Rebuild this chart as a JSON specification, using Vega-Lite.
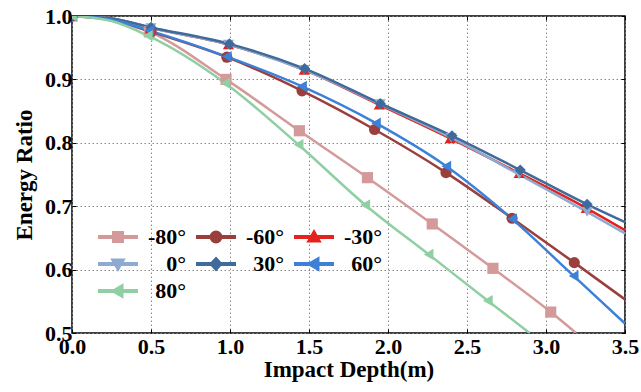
{
  "$schema": "https://vega.github.io/schema/vega-lite/v6.json",
  "width": 553,
  "height": 317,
  "autosize": {"type": "none"},
  "padding": {"left": 72, "top": 16, "right": 16, "bottom": 59},
  "background": "white",
  "config": {
    "view": {"stroke": "black", "strokeWidth": 1.5},
    "font": "Liberation Serif",
    "axis": {
      "labelFont": "Liberation Serif", "labelFontWeight": "bold", "labelFontSize": 22, "labelColor": "black",
      "titleFont": "Liberation Serif", "titleFontWeight": "bold", "titleFontSize": 23, "titleColor": "black",
      "domain": false, "tickColor": "black", "tickSize": -4, "tickWidth": 1,
      "grid": true, "gridColor": "#888", "gridDash": [1.5, 2.5], "gridWidth": 1
    }
  },
  "data": {"values": [
    {"a": "-80°", "x": 0, "y": 1.0, "m": 1},
    {"a": "-80°", "x": 0.25, "y": 0.993, "m": 0},
    {"a": "-80°", "x": 0.49, "y": 0.975, "m": 1},
    {"a": "-80°", "x": 0.975, "y": 0.900, "m": 1},
    {"a": "-80°", "x": 1.439, "y": 0.819, "m": 1},
    {"a": "-80°", "x": 1.87, "y": 0.745, "m": 1},
    {"a": "-80°", "x": 2.28, "y": 0.672, "m": 1},
    {"a": "-80°", "x": 2.664, "y": 0.602, "m": 1},
    {"a": "-80°", "x": 3.03, "y": 0.533, "m": 1},
    {"a": "-80°", "x": 3.19, "y": 0.5, "m": 0},

    {"a": "-60°", "x": 0, "y": 1.0, "m": 1},
    {"a": "-60°", "x": 0.25, "y": 0.994, "m": 0},
    {"a": "-60°", "x": 0.5, "y": 0.975, "m": 1},
    {"a": "-60°", "x": 0.98, "y": 0.935, "m": 1},
    {"a": "-60°", "x": 1.456, "y": 0.882, "m": 1},
    {"a": "-60°", "x": 1.915, "y": 0.821, "m": 1},
    {"a": "-60°", "x": 2.367, "y": 0.753, "m": 1},
    {"a": "-60°", "x": 2.785, "y": 0.681, "m": 1},
    {"a": "-60°", "x": 3.179, "y": 0.611, "m": 1},
    {"a": "-60°", "x": 3.5, "y": 0.553, "m": 0},

    {"a": "-30°", "x": 0, "y": 1.0, "m": 1},
    {"a": "-30°", "x": 0.25, "y": 0.996, "m": 0},
    {"a": "-30°", "x": 0.5, "y": 0.981, "m": 1},
    {"a": "-30°", "x": 0.99, "y": 0.955, "m": 1},
    {"a": "-30°", "x": 1.47, "y": 0.915, "m": 1},
    {"a": "-30°", "x": 1.945, "y": 0.860, "m": 1},
    {"a": "-30°", "x": 2.394, "y": 0.807, "m": 1},
    {"a": "-30°", "x": 2.83, "y": 0.752, "m": 1},
    {"a": "-30°", "x": 3.255, "y": 0.697, "m": 1},
    {"a": "-30°", "x": 3.5, "y": 0.662, "m": 0},

    {"a": "0°", "x": 0, "y": 1.0, "m": 1},
    {"a": "0°", "x": 0.25, "y": 0.996, "m": 0},
    {"a": "0°", "x": 0.5, "y": 0.981, "m": 1},
    {"a": "0°", "x": 0.99, "y": 0.955, "m": 1},
    {"a": "0°", "x": 1.47, "y": 0.915, "m": 1},
    {"a": "0°", "x": 1.95, "y": 0.861, "m": 1},
    {"a": "0°", "x": 2.40, "y": 0.808, "m": 1},
    {"a": "0°", "x": 2.83, "y": 0.750, "m": 1},
    {"a": "0°", "x": 3.26, "y": 0.691, "m": 1},
    {"a": "0°", "x": 3.5, "y": 0.657, "m": 0},

    {"a": "30°", "x": 0, "y": 1.0, "m": 1},
    {"a": "30°", "x": 0.25, "y": 0.996, "m": 0},
    {"a": "30°", "x": 0.5, "y": 0.982, "m": 1},
    {"a": "30°", "x": 0.996, "y": 0.956, "m": 1},
    {"a": "30°", "x": 1.472, "y": 0.917, "m": 1},
    {"a": "30°", "x": 1.951, "y": 0.862, "m": 1},
    {"a": "30°", "x": 2.405, "y": 0.811, "m": 1},
    {"a": "30°", "x": 2.837, "y": 0.757, "m": 1},
    {"a": "30°", "x": 3.26, "y": 0.703, "m": 1},
    {"a": "30°", "x": 3.5, "y": 0.675, "m": 0},

    {"a": "60°", "x": 0, "y": 1.0, "m": 1},
    {"a": "60°", "x": 0.25, "y": 0.994, "m": 0},
    {"a": "60°", "x": 0.49, "y": 0.977, "m": 1},
    {"a": "60°", "x": 0.98, "y": 0.936, "m": 1},
    {"a": "60°", "x": 1.456, "y": 0.889, "m": 1},
    {"a": "60°", "x": 1.924, "y": 0.831, "m": 1},
    {"a": "60°", "x": 2.369, "y": 0.763, "m": 1},
    {"a": "60°", "x": 2.785, "y": 0.680, "m": 1},
    {"a": "60°", "x": 3.175, "y": 0.590, "m": 1},
    {"a": "60°", "x": 3.5, "y": 0.515, "m": 0},

    {"a": "80°", "x": 0, "y": 1.0, "m": 1},
    {"a": "80°", "x": 0.25, "y": 0.992, "m": 0},
    {"a": "80°", "x": 0.48, "y": 0.969, "m": 1},
    {"a": "80°", "x": 0.97, "y": 0.894, "m": 1},
    {"a": "80°", "x": 1.434, "y": 0.797, "m": 1},
    {"a": "80°", "x": 1.856, "y": 0.702, "m": 1},
    {"a": "80°", "x": 2.257, "y": 0.624, "m": 1},
    {"a": "80°", "x": 2.632, "y": 0.551, "m": 1},
    {"a": "80°", "x": 2.896, "y": 0.5, "m": 0}
  ]},
  "layer": [
    {
      "mark": {"type": "line", "strokeWidth": 2.5, "interpolate": "monotone", "clip": true},
      "encoding": {
        "x": {"field": "x", "type": "quantitative", "scale": {"domain": [0, 3.5], "nice": false, "zero": false},
              "axis": {"title": "Impact Depth(m)", "values": [0, 0.5, 1, 1.5, 2, 2.5, 3, 3.5], "format": ".1f", "labelPadding": 7, "titlePadding": 1, "labelFlush": false}},
        "y": {"field": "y", "type": "quantitative", "scale": {"domain": [0.5, 1.0], "nice": false, "zero": false},
              "axis": {"title": "Energy Ratio", "values": [0.5, 0.6, 0.7, 0.8, 0.9, 1.0], "format": ".1f", "labelPadding": 4, "titlePadding": 8, "labelFlush": false}},
        "color": {"field": "a", "type": "nominal",
                  "scale": {"domain": ["-80°", "-60°", "-30°", "0°", "30°", "60°", "80°"],
                            "range": ["#d49a9a", "#9a3f3c", "#e3231c", "#8eaad0", "#3f6b9c", "#3c80d8", "#8fcfa3"]},
                  "legend": {
                    "title": null, "orient": "none", "direction": "horizontal", "legendX": 16, "legendY": 210, "columns": 3,
                    "padding": 0, "columnPadding": -37, "rowPadding": 5, "gridAlign": "all",
                    "symbolSize": 100, "symbolStrokeWidth": 2, "symbolOffset": 19,
                    "labelFont": "Liberation Serif", "labelFontWeight": "bold", "labelFontSize": 22, "labelColor": "black",
                    "labelAlign": "right", "labelOffset": 57, "labelLimit": 200,
                    "encode": {
                      "symbols": {"update": {
                        "shape": {"signal": "datum.value === '-80°' ? 'M-3.8,-0.22H3.8V0.22H-3.8ZM-1,-1H1V1H-1Z' : datum.value === '-60°' ? 'M-3.8,-0.22H3.8V0.22H-3.8ZM1.1,0A1.1,1.1,0,1,1,-1.1,0A1.1,1.1,0,1,1,1.1,0Z' : datum.value === '-30°' ? 'M-3.8,-0.22H3.8V0.22H-3.8ZM0,-1.2L1.2,0.9L-1.2,0.9Z' : datum.value === '0°' ? 'M-3.8,-0.22H3.8V0.22H-3.8ZM0,1.2L1.2,-0.9L-1.2,-0.9Z' : datum.value === '30°' ? 'M-3.8,-0.22H3.8V0.22H-3.8ZM0,-1.2L1.1,0L0,1.2L-1.1,0Z' : 'M-3.8,-0.22H3.8V0.22H-3.8ZM-1.2,0L0.9,-1.2L0.9,1.2Z'"},
                        "fill": {"scale": "color", "field": "value"},
                        "stroke": {"value": "transparent"},
                        "opacity": {"value": 1}
                      }}
                    }
                  }},
        "detail": {"field": "a"}
      }
    },
    {
      "transform": [{"filter": "datum.m == 1"}, {"calculate": "datum.a", "as": "angle"}],
      "mark": {"type": "point", "filled": true, "size": 125, "opacity": 1, "clip": true},
      "encoding": {
        "x": {"field": "x", "type": "quantitative",
              "axis": {"orient": "top", "title": null, "labels": false, "grid": false, "values": [0, 0.5, 1, 1.5, 2, 2.5, 3, 3.5]}},
        "y": {"field": "y", "type": "quantitative",
              "axis": {"orient": "right", "title": null, "labels": false, "grid": false, "values": [0.5, 0.6, 0.7, 0.8, 0.9, 1.0]}},
        "fill": {"field": "angle", "type": "nominal",
                 "scale": {"range": ["#e3231c", "#9a3f3c", "#d49a9a", "#8eaad0", "#3f6b9c", "#3c80d8", "#8fcfa3"]},
                 "legend": null},
        "shape": {"field": "angle", "type": "nominal",
                  "scale": {"range": ["triangle-up", "circle", "square", "triangle-down", "diamond", "triangle-left", "triangle-left"]},
                  "legend": null}
      }
    }
  ],
  "resolve": {"axis": {"x": "independent", "y": "independent"}}
}
